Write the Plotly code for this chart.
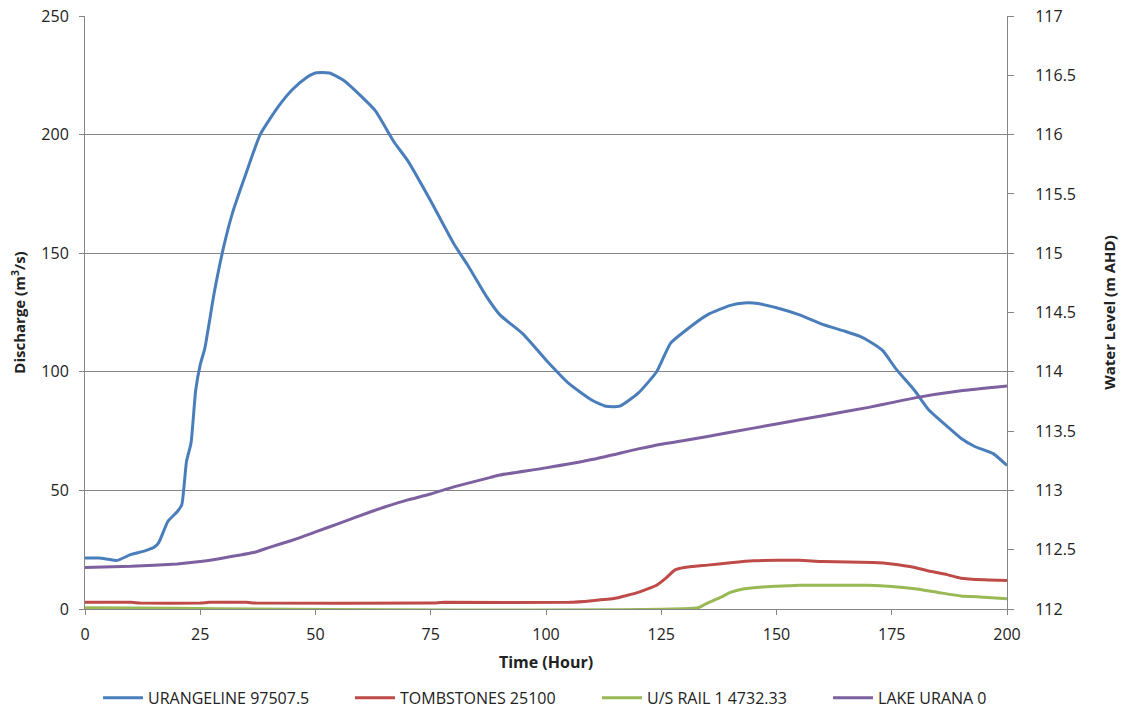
import plotly.graph_objects as go

# ---- data ----
t_blue = [0, 3, 5, 7, 10, 13, 15, 16, 18, 20, 21, 22, 23, 24, 25, 26, 28, 30, 32, 35, 38, 42, 45,
          48, 50, 53, 56, 60, 63, 67, 70, 75, 80, 83, 87, 90, 95, 100, 105, 110, 113, 116, 120,
          124, 127, 130, 135, 140, 143, 146, 150, 155, 160, 165, 168, 170, 173, 176, 180, 183,
          187, 190, 193, 197, 200]
urangeline = [21.5, 21.5, 21, 20.5, 23, 24.5, 26, 28, 37, 41, 44, 62, 70, 92, 103, 110, 133, 152,
              167, 184, 200, 212, 219, 224, 226, 226, 223, 216, 210, 197, 189, 172, 154, 145, 132,
              124, 116, 105, 95, 88, 85.5, 85.5, 91, 100, 112, 117, 124, 128, 129, 128.8, 127,
              124, 120, 117, 115, 113, 109, 101, 92, 84, 77, 72, 68.5, 65.5, 60.5]

t_red = [0, 10, 12, 25, 27, 35, 37, 75, 78, 105, 110, 115, 120, 124, 126, 128, 130, 135, 140,
         145, 150, 155, 160, 171, 175, 180, 183, 187, 190, 195, 200]
tombstones = [2.8, 2.8, 2.5, 2.5, 2.8, 2.8, 2.5, 2.5, 2.8, 2.8, 3.5, 4.5, 7, 10, 13, 16.5, 17.5,
              18.5, 19.5, 20.3, 20.5, 20.5, 20, 19.6, 19, 17.5, 16, 14.5, 13, 12.3, 12]

t_green = [0, 133, 135, 138, 140, 143, 147, 150, 155, 165, 170, 175, 180, 185, 190, 195, 200]
us_rail = [0.5, 0.5, 2.5, 5, 7, 8.5, 9.3, 9.6, 10, 10, 10, 9.5, 8.5, 7, 5.5, 5, 4.3]

t_purple = [0, 10, 20, 25, 30, 37, 40, 45, 50, 55, 62, 65, 70, 75, 80, 88, 90, 100, 110, 120,
            125, 130, 140, 150, 160, 170, 175, 180, 190, 200]
lake_urana = [112.35, 112.36, 112.38, 112.40, 112.43, 112.48, 112.52, 112.58, 112.65, 112.72,
              112.82, 112.86, 112.92, 112.97, 113.03, 113.11, 113.13, 113.19, 113.26, 113.35,
              113.39, 113.42, 113.49, 113.56, 113.63, 113.70, 113.74, 113.78, 113.84, 113.88]

names = ["URANGELINE 97507.5", "TOMBSTONES 25100", "U/S RAIL 1 4732.33", "LAKE URANA 0"]
colors = ["#4A7EBB", "#BE4B48", "#98B954", "#7D60A0"]

font = "Open Sans"
fig = go.Figure()
fig.add_trace(go.Scatter(x=t_blue, y=urangeline, name=names[0], mode="lines", legend="legend",
                         line=dict(color=colors[0], width=3, shape="spline", smoothing=0.5)))
fig.add_trace(go.Scatter(x=t_red, y=tombstones, name=names[1], mode="lines", legend="legend2",
                         line=dict(color=colors[1], width=3, shape="spline", smoothing=0.4)))
fig.add_trace(go.Scatter(x=t_green, y=us_rail, name=names[2], mode="lines", legend="legend3",
                         line=dict(color=colors[2], width=3, shape="spline", smoothing=0.4)))
fig.add_trace(go.Scatter(x=t_purple, y=lake_urana, name=names[3], mode="lines", yaxis="y2",
                         legend="legend4",
                         line=dict(color=colors[3], width=3, shape="spline", smoothing=0.4)))

axis_col = "#868686"


def leg(x):
    return dict(orientation="h", x=x, xanchor="left", y=-0.150, yanchor="middle",
                font=dict(size=16), itemwidth=40, bgcolor="rgba(0,0,0,0)")


fig.update_layout(
    width=1111, height=699,
    margin=dict(l=77, r=112, t=8, b=98, autoexpand=False),
    paper_bgcolor="white", plot_bgcolor="white",
    font=dict(family=font, size=16, color="#222222"),
    showlegend=True,
    legend=leg(0.0141), legend2=leg(0.2874), legend3=leg(0.5553), legend4=leg(0.8059),
    xaxis=dict(range=[0, 200], dtick=25, showgrid=False, showline=True, linecolor=axis_col,
               ticks="outside", ticklen=5, tickcolor=axis_col, zeroline=False, automargin=False,
               ticklabelstandoff=6, ticklabeloverflow="allow",
               title=dict(text="<b>Time (Hour)</b>", font=dict(size=16), standoff=12)),
    yaxis=dict(range=[0, 250], dtick=50, showgrid=True, gridcolor=axis_col, gridwidth=1,
               showline=True, linecolor=axis_col, ticks="outside", ticklen=5,
               tickcolor=axis_col, zeroline=False, automargin=False, ticklabelstandoff=7,
               ticklabeloverflow="allow",
               title=dict(text="<b>Discharge (m<sup>3</sup>/s)</b>", font=dict(size=15), standoff=21)),
    yaxis2=dict(range=[112, 117], dtick=0.5, overlaying="y", side="right", showgrid=False,
                showline=True, linecolor=axis_col, ticks="outside", ticklen=6,
                tickcolor=axis_col, zeroline=False, automargin=False, ticklabelstandoff=18,
                ticklabeloverflow="allow",
                title=dict(text="<b>Water Level (m AHD)</b>", font=dict(size=15), standoff=36)),
)

fig.write_html("out.html", config={"displayModeBar": False})
